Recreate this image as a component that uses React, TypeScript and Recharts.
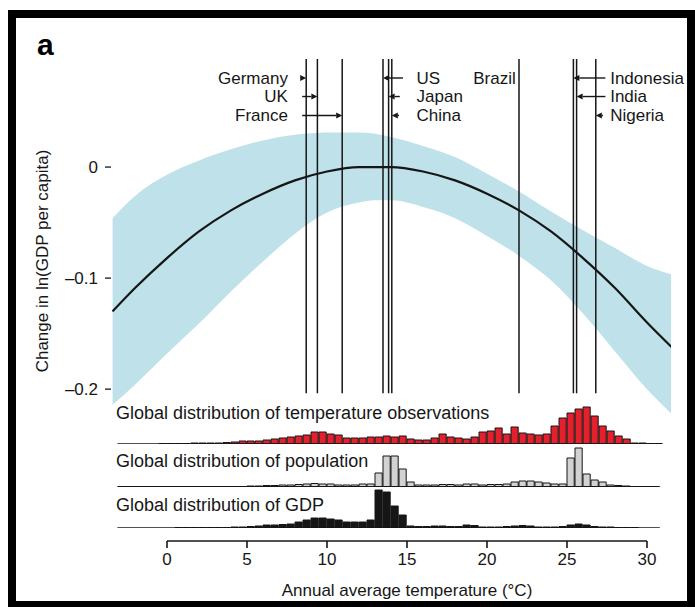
import React from "react";
import {
  ComposedChart, Area, Line, Bar, XAxis, YAxis, ReferenceLine, ReferenceDot,
} from "recharts";

// temperature response: change in ln(GDP per capita) vs annual mean temperature
const temps  = [-3.4, -2, 0, 2, 4, 6, 8, 10, 12, 13, 14, 16, 18, 20, 22, 24, 26, 28, 30, 31.6];
const effect = [-0.130, -0.109, -0.082, -0.058, -0.039, -0.024, -0.012, -0.004, 0.000, 0.000,
                0.000, -0.004, -0.012, -0.024, -0.039, -0.058, -0.082, -0.109, -0.140, -0.163];
const ciLow  = [-0.214, -0.196, -0.168, -0.141, -0.112, -0.085, -0.060, -0.041, -0.032, -0.030,
                -0.030, -0.036, -0.046, -0.062, -0.080, -0.102, -0.132, -0.166, -0.200, -0.223];
const ciHigh = [-0.046, -0.026, -0.007, 0.006, 0.016, 0.024, 0.029, 0.031, 0.031, 0.030,
                0.027, 0.019, 0.009, -0.006, -0.022, -0.040, -0.057, -0.073, -0.089, -0.097];

// histogram bins, 0.5 °C wide (centres)
const binCentres = [
  -2.75, -2.25, -1.75, -1.25, -0.75, -0.25, 0.25, 0.75, 1.25, 1.75,
  2.25, 2.75, 3.25, 3.75, 4.25, 4.75, 5.25, 5.75, 6.25, 6.75,
  7.25, 7.75, 8.25, 8.75, 9.25, 9.75, 10.25, 10.75, 11.25, 11.75,
  12.25, 12.75, 13.25, 13.75, 14.25, 14.75, 15.25, 15.75, 16.25, 16.75,
  17.25, 17.75, 18.25, 18.75, 19.25, 19.75, 20.25, 20.75, 21.25, 21.75,
  22.25, 22.75, 23.25, 23.75, 24.25, 24.75, 25.25, 25.75, 26.25, 26.75,
  27.25, 27.75, 28.25, 28.75, 29.25, 29.75, 30.25, 30.75,
];
const tempObs = [
  0, 0, 0, 0, 0, 0.5, 0.5, 0.5, 0.5, 1,
  1, 1, 1, 1.5, 2, 3, 3, 3, 4, 5,
  6, 7, 8, 9, 12, 12, 10, 9, 6, 6,
  6, 7, 7, 8, 7, 8, 5, 4, 4, 6,
  10, 7, 6, 5, 7, 12, 13, 16, 10, 17,
  11, 10, 9, 10, 18, 26, 31, 35, 37, 28,
  18, 13, 8, 5, 1, 1, 0.5, 0.5,
];
const population = [
  0, 0, 0, 0, 0, 0, 0, 0, 0, 0.5,
  0.5, 0.5, 0.5, 0.5, 0.5, 0.5, 1, 1, 1.5, 1.5,
  2, 2, 2.5, 3, 3.5, 3, 3, 2, 2, 2,
  3, 3, 14, 31, 31, 18, 5, 2, 2, 2,
  2.5, 2.5, 2, 3, 3, 2, 2.5, 2.5, 3, 5,
  6, 6, 5, 4, 3, 3, 29, 39, 13, 7,
  5, 2, 1.5, 1, 0.5, 0.5, 0, 0,
];
const gdp = [
  0, 0, 0, 0, 0, 0, 0, 0.5, 0.5, 0.5,
  0.5, 0.5, 0.5, 0.5, 1, 1, 1.5, 2, 3, 3,
  3.5, 4, 6, 8, 10, 10, 9, 8, 6, 6,
  6, 8, 38, 36, 22, 13, 2, 1.5, 1.5, 2,
  2, 1.5, 1.5, 3, 2.5, 1, 1, 1, 1.5, 2,
  2.5, 2, 1, 1, 1, 1.5, 3, 4, 3, 1.5,
  1, 1, 0.5, 0.5, 0.5, 0, 0, 0,
];

// country mean temperatures (°C)
const countries    = ["Germany", "UK", "France", "US", "Japan", "China", "Brazil", "Indonesia", "India", "Nigeria"];
const countryTemps = [8.7, 9.4, 10.95, 13.5, 13.85, 14.05, 22.0, 25.4, 25.6, 26.8];

const xTicks = [0, 5, 10, 15, 20, 25, 30];
const yTicks = [0, -0.1, -0.2];

const FONT = "'Liberation Sans', Arial, Helvetica, sans-serif";
const INK = "#161616";
const X_DOMAIN: [number, number] = [-3.5, 31.5];
const LINE_TOP = 0.0973;
const LINE_BOTTOM = -0.2036;
const ROW_Y = [0.0802, 0.0635, 0.0464];

// where each country's name and arrow tail sit (°C along x)
const labelLayout: Record<string, { row: number; text: number; anchor: "start" | "end"; tail: number | null }> = {
  Germany:   { row: 0, text: 7.56, anchor: "end",   tail: 8.3 },
  UK:        { row: 1, text: 7.56, anchor: "end",   tail: 8.45 },
  France:    { row: 2, text: 7.56, anchor: "end",   tail: 8.45 },
  US:        { row: 0, text: 15.6, anchor: "start", tail: 14.75 },
  Japan:     { row: 1, text: 15.6, anchor: "start", tail: 14.55 },
  China:     { row: 2, text: 15.6, anchor: "start", tail: 14.5 },
  Brazil:    { row: 0, text: 21.8, anchor: "end",   tail: null },
  Indonesia: { row: 0, text: 27.7, anchor: "start", tail: 27.4 },
  India:     { row: 1, text: 27.7, anchor: "start", tail: 27.4 },
  Nigeria:   { row: 2, text: 27.7, anchor: "start", tail: 27.25 },
};

const curveData = temps.map((t, i) => ({ t, effect: effect[i], band: [ciLow[i], ciHigh[i]] }));
const histData = binCentres.map((t, i) => ({ t, obs: tempObs[i], pop: population[i], gdp: gdp[i] }));

function Arrow(props: any) {
  const { x1, y1, x2 } = props;
  const dir = x2 >= x1 ? 1 : -1;
  const head = 6;
  const base = x2 - dir * head;
  return (
    <g>
      {Math.abs(x2 - x1) > head + 1 && (
        <line x1={x1} y1={y1} x2={base} y2={y1} stroke={INK} strokeWidth={1.4} />
      )}
      <polygon points={`${x2},${y1} ${base},${y1 - 3} ${base},${y1 + 3}`} fill={INK} />
    </g>
  );
}

function fmtY(v: number) {
  if (v === 0) return "0";
  return `\u2013${Math.abs(v).toFixed(1)}`;
}

function Histogram({ dataKey, fill, stroke, top, baseWidth }: {
  dataKey: string; fill: string; stroke: string; top: number; baseWidth: number;
}) {
  return (
    <div style={{ position: "absolute", left: 0, top }}>
      <ComposedChart width={695} height={40} data={histData} margin={{ top: 0, right: 24, bottom: 0, left: 111 }}>
        <XAxis dataKey="t" type="number" domain={X_DOMAIN} hide allowDataOverflow />
        <YAxis type="number" domain={[0, 40]} hide allowDataOverflow />
        <ReferenceLine
          segment={[{ x: -3.1, y: 0 }, { x: 30.8, y: 0 }]}
          stroke={INK}
          strokeWidth={baseWidth}
        />
        <Bar dataKey={dataKey} barSize={8} fill={fill} stroke={stroke} strokeWidth={1} isAnimationActive={false} />
      </ComposedChart>
    </div>
  );
}

export default function App() {
  return (
    <div style={{ position: "absolute", left: 0, top: 0, width: 695, height: 607, background: "#fff", overflow: "hidden", fontFamily: FONT }}>
      <div style={{ position: "absolute", left: 8, top: 10, width: 687, height: 599, border: "8px solid #000", boxSizing: "border-box" }} />

      <div style={{ position: "absolute", left: 0, top: 0 }}>
        <ComposedChart width={695} height={440} data={curveData} margin={{ top: 56, right: 24, bottom: 12, left: 51 }}>
          <XAxis dataKey="t" type="number" domain={X_DOMAIN} hide allowDataOverflow />
          <YAxis
            type="number"
            domain={[-0.235, 0.1]}
            ticks={yTicks}
            tickFormatter={fmtY}
            width={60}
            axisLine={false}
            tickLine={{ stroke: INK, strokeWidth: 1.3 }}
            tickSize={6}
            tickMargin={7}
            tick={{ fontSize: 17, fill: INK, fontFamily: FONT }}
            allowDataOverflow
          />
          <Area dataKey="band" type="monotone" fill="#bfe1ea" fillOpacity={1} stroke="none" isAnimationActive={false} />
          <Line dataKey="effect" type="monotone" stroke={INK} strokeWidth={2.2} dot={false} isAnimationActive={false} />
          {countries.map((c, i) => (
            <ReferenceLine
              key={c}
              segment={[{ x: countryTemps[i], y: LINE_BOTTOM }, { x: countryTemps[i], y: LINE_TOP }]}
              stroke={INK}
              strokeWidth={1.5}
            />
          ))}
          {countries.map((c, i) => {
            const l = labelLayout[c];
            if (l.tail === null) return null;
            return (
              <ReferenceLine
                key={`arrow-${c}`}
                segment={[{ x: l.tail, y: ROW_Y[l.row] }, { x: countryTemps[i], y: ROW_Y[l.row] }]}
                shape={Arrow}
              />
            );
          })}
          {countries.map((c) => {
            const l = labelLayout[c];
            return (
              <ReferenceDot
                key={`label-${c}`}
                x={l.text}
                y={ROW_Y[l.row]}
                r={0}
                shape={(p: any) => (
                  <text x={p.cx} y={p.cy} dy="0.35em" textAnchor={l.anchor} fontSize={17} fontFamily={FONT} fill={INK}>
                    {c}
                  </text>
                )}
              />
            );
          })}
        </ComposedChart>
      </div>

      <Histogram dataKey="obs" fill="#e3202c" stroke={INK} top={404} baseWidth={1.5} />
      <Histogram dataKey="pop" fill="#d2d2d2" stroke={INK} top={447} baseWidth={2} />
      <Histogram dataKey="gdp" fill={INK} stroke={INK} top={488} baseWidth={1.5} />

      <div style={{ position: "absolute", left: 0, top: 520 }}>
        <ComposedChart width={695} height={87} data={xTicks.map((t) => ({ t }))} margin={{ top: 0, right: 48, bottom: 0, left: 167 }}>
          <XAxis
            dataKey="t"
            type="number"
            domain={[0, 30]}
            ticks={xTicks}
            height={66}
            axisLine={{ stroke: INK, strokeWidth: 1.6 }}
            tickLine={{ stroke: INK, strokeWidth: 1.6 }}
            tickSize={7}
            tickMargin={5}
            tick={{ fontSize: 17, fill: INK, fontFamily: FONT }}
          />
          <YAxis hide domain={[0, 1]} />
        </ComposedChart>
      </div>

      <svg width={695} height={607} style={{ position: "absolute", left: 0, top: 0, pointerEvents: "none" }}>
        <text x={37} y={55} fontSize={30} fontWeight="bold" fontFamily={FONT} fill="#000">a</text>
        <text transform="translate(48,261) rotate(-90)" textAnchor="middle" fontSize={17} fontFamily={FONT} fill={INK}>
          Change in ln(GDP per capita)
        </text>
        <text x={116} y={419} fontSize={18} fontFamily={FONT} fill={INK}>Global distribution of temperature observations</text>
        <text x={116} y={467} fontSize={18} fontFamily={FONT} fill={INK}>Global distribution of population</text>
        <text x={116} y={511} fontSize={18} fontFamily={FONT} fill={INK}>Global distribution of GDP</text>
        <text x={407} y={596} textAnchor="middle" fontSize={17} fontFamily={FONT} fill={INK}>Annual average temperature (°C)</text>
      </svg>
    </div>
  );
}
